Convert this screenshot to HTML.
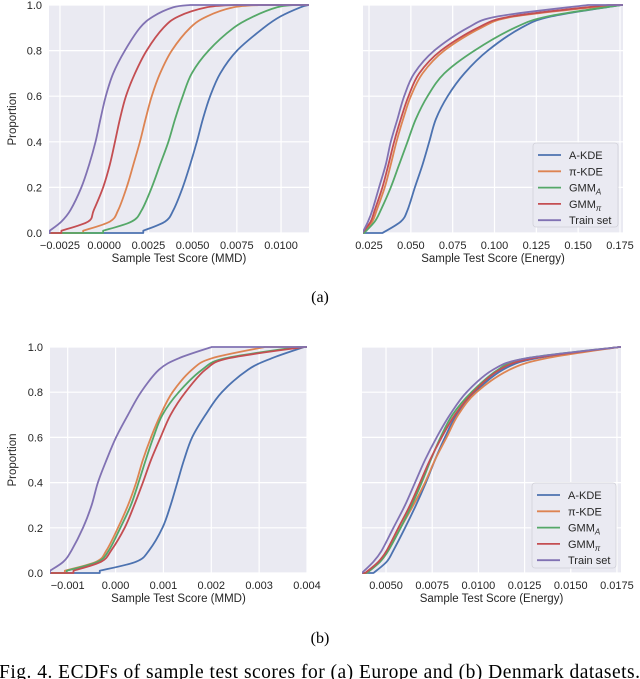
<!DOCTYPE html>
<html><head><meta charset="utf-8"><style>
body{margin:0;background:#fff;width:640px;height:679px;overflow:hidden}
svg{display:block;font-family:"Liberation Sans",sans-serif}
</style></head><body>
<svg id="fig" width="640" height="679" viewBox="0 0 640 679">
<text x="320" y="302" text-anchor="middle" font-family="Liberation Serif" font-size="16">(a)</text>
<text x="320" y="643" text-anchor="middle" font-family="Liberation Serif" font-size="16">(b)</text>
<text x="-1" y="678" font-family="Liberation Serif" font-size="19.5" textLength="641">Fig. 4.  ECDFs of sample test scores for (a) Europe and (b) Denmark datasets.</text>
</svg>
<script>
const seriesNames = ["A-KDE","π-KDE","GMM_A","GMM_π","Train set"];
const colors = ["#4c72b0","#dd8452","#55a868","#c44e52","#8172b3"];
const probs14 = [0.01,0.05,0.1,0.2,0.3,0.4,0.5,0.6,0.7,0.8,0.9,0.95,0.99,1];
const probs13 = [0,0.05,0.1,0.2,0.3,0.4,0.5,0.6,0.7,0.8,0.9,0.95,1];
const probsBL = [0.01,0.05,0.1,0.2,0.3,0.4,0.5,0.6,0.7,0.8,0.9,0.95,1];
const yTicks = [0,0.2,0.4,0.6,0.8,1.0];
const yTickLabels = ["0.0","0.2","0.4","0.6","0.8","1.0"];

const tlBlue = [0.00221,0.00344,0.00391,0.00444,0.00486,0.00524,0.00558,0.00599,0.00656,0.00751,0.00902,0.00997,0.01110,0.01157];
const tlOrange = [-0.00119,0.00032,0.00079,0.00127,0.00165,0.00202,0.00234,0.00269,0.00316,0.00382,0.00486,0.00581,0.00732,0.00883];
const tlGreen = [-0.00006,0.00155,0.00212,0.00269,0.00316,0.00363,0.00401,0.00444,0.00495,0.00590,0.00732,0.00845,0.00978,0.01072];
const tlRed = [-0.00242,-0.00091,-0.00059,-0.00006,0.00032,0.00061,0.00089,0.00123,0.00174,0.00240,0.00335,0.00420,0.00581,0.00732];
const tlPurple = [-0.00308,-0.00242,-0.00191,-0.00129,-0.00085,-0.00049,-0.00021,0.00009,0.00051,0.00117,0.00202,0.00278,0.00391,0.00486];
const tlTicks = [-0.0025,0,0.0025,0.005,0.0075,0.01];
const tlTickLabels = ["−0.0025","0.0000","0.0025","0.0050","0.0075","0.0100"];

const trBlue = [0.033,0.044,0.048,0.0524,0.057,0.061,0.065,0.072,0.082,0.096,0.116,0.134,0.176];
const trOrange = [0.022,0.027,0.0296,0.0344,0.038,0.0414,0.0454,0.05,0.057,0.07,0.092,0.112,0.172];
const trGreen = [0.022,0.0284,0.032,0.038,0.043,0.048,0.053,0.06,0.07,0.088,0.112,0.132,0.176];
const trRed = [0.021,0.026,0.0284,0.033,0.0366,0.040,0.044,0.0486,0.055,0.068,0.09,0.11,0.168];
const trPurple = [0.021,0.0244,0.027,0.031,0.035,0.038,0.042,0.046,0.052,0.064,0.084,0.102,0.156];
const trTicks = [0.025,0.05,0.075,0.1,0.125,0.15,0.175];
const trTickLabels = ["0.025","0.050","0.075","0.100","0.125","0.150","0.175"];

const blBlue = [-0.00033,0.00043,0.0007,0.00098,0.00115,0.00129,0.00143,0.0016,0.00188,0.00222,0.00277,0.00326,0.00394];
const blOrange = [-0.00106,-0.0004,-0.00019,0.00005,0.00026,0.00043,0.00057,0.00074,0.00094,0.00119,0.0016,0.00201,0.00312];
const blGreen = [-0.00102,-0.00037,-0.00014,0.0001,0.00032,0.00048,0.00063,0.00079,0.00098,0.00132,0.00181,0.00229,0.00381];
const blRed = [-0.00088,-0.0003,-0.00009,0.00019,0.00039,0.00057,0.00074,0.00094,0.00115,0.00146,0.00188,0.00236,0.00394];
const blPurple = [-0.00137,-0.00109,-0.00092,-0.00068,-0.0005,-0.00037,-0.00019,0.00001,0.00026,0.00053,0.00091,0.00132,0.00201];
const blTicks = [-0.001,0,0.001,0.002,0.003,0.004];
const blTickLabels = ["−0.001","0.000","0.001","0.002","0.003","0.004"];

const brBlue = [0.00432,0.00504,0.0054,0.00603,0.00662,0.00716,0.00765,0.00819,0.00882,0.00981,0.01134,0.01314,0.01764];
const brOrange = [0.00396,0.00468,0.00513,0.00579,0.00648,0.00711,0.00765,0.00828,0.00891,0.0099,0.0117,0.01368,0.01764];
const brGreen = [0.00396,0.00468,0.00513,0.00579,0.00639,0.00693,0.00742,0.00795,0.0086,0.00963,0.01107,0.0126,0.01764];
const brRed = [0.00387,0.00459,0.00504,0.00567,0.0063,0.00684,0.00738,0.00801,0.00873,0.00972,0.01116,0.01296,0.01764];
const brPurple = [0.00369,0.00432,0.00477,0.0054,0.00603,0.00657,0.00711,0.00774,0.00846,0.00936,0.0108,0.0126,0.01764];
const brTicks = [0.005,0.0075,0.01,0.0125,0.015,0.0175];
const brTickLabels = ["0.0050","0.0075","0.0100","0.0125","0.0150","0.0175"];

const NS="http://www.w3.org/2000/svg";
const svg=document.getElementById('fig');
function mk(tag,attrs,parent){const e=document.createElementNS(NS,tag);for(const k in attrs)e.setAttribute(k,attrs[k]);(parent||svg).appendChild(e);return e;}

function smoothPath(pts){
  let d='M'+pts[0][0].toFixed(2)+','+pts[0][1].toFixed(2);
  for(let i=0;i<pts.length-1;i++){
    const p0=pts[i-1]||pts[i],p1=pts[i],p2=pts[i+1],p3=pts[i+2]||p2;
    const c1=[p1[0]+(p2[0]-p0[0])/6,p1[1]+(p2[1]-p0[1])/6];
    const c2=[p2[0]-(p3[0]-p1[0])/6,p2[1]-(p3[1]-p1[1])/6];
    d+='C'+c1.map(v=>v.toFixed(2)).join(',')+' '+c2.map(v=>v.toFixed(2)).join(',')+' '+p2[0].toFixed(2)+','+p2[1].toFixed(2);
  }
  return d;
}

function panel(cfg){
  const g=mk('g',{});
  
  
  const {x0,x1,y0,y1,xmin,xmax}=cfg;
  const sx=v=>x0+(v-xmin)/(xmax-xmin)*(x1-x0);
  const sy=p=>y1-p*(y1-y0);
  const bg=mk('rect',{x:x0,y:y0,width:x1-x0,height:y1-y0,fill:'#eaeaf2'},g);
  
  
  cfg.ticks.forEach((t,i)=>{
    const X=sx(t);
    const l=mk('line',{x1:X,x2:X,y1:y0,y2:y1,stroke:'#fff','stroke-width':1.2},g);
    
    
    const tx=mk('text',{x:X,y:y1+16,'text-anchor':'middle','font-size':11,fill:'#262626'},g);
    tx.textContent=cfg.tickLabels[i];
    
    
  });
  yTicks.forEach((t,i)=>{
    const Y=sy(t);
    const l=mk('line',{x1:x0,x2:x1,y1:Y,y2:Y,stroke:'#fff','stroke-width':1.2},g);
    
    
    if(cfg.yLabels){
      const tx=mk('text',{x:x0-7,y:Y+4,'text-anchor':'end','font-size':11,fill:'#262626'},g);
      tx.textContent=yTickLabels[i];
      
      
    }
  });
  if(cfg.yLabels){
    const yt=mk('text',{x:0,y:0,transform:`translate(16,${(y0+y1)/2}) rotate(-90)`,'text-anchor':'middle','font-size':11.5,fill:'#262626'},g);
    yt.textContent='Proportion';
    
    
  }
  const xt=mk('text',{x:(x0+x1)/2,y:y1+29,'text-anchor':'middle','font-size':11.5,fill:'#262626'},g);
  xt.textContent=cfg.xTitle;
  
  
  const clipId='c'+cfg.name;
  const cp=mk('clipPath',{id:clipId},g);
  mk('rect',{x:x0,y:y0-2,width:x1-x0,height:y1-y0+4},cp);
  cfg.series.forEach((s,si)=>{
    const pts=s.map((v,i)=>[sx(v),sy(cfg.probs[i])]);
    let d=smoothPath(pts);
    d='M'+(x0-5)+','+sy(0).toFixed(2)+'L'+pts[0][0].toFixed(2)+','+sy(0).toFixed(2)+'L'+d.slice(1);
    d+='L'+(x1+5)+','+sy(1).toFixed(2);
    const p=mk('path',{d:d,fill:'none',stroke:colors[si],'stroke-width':1.8,'clip-path':`url(#${clipId})`,'stroke-linejoin':'round'},g);
    
    
  });
  if(cfg.legend){
    const [lx,ly,lw,lh]=cfg.legend;
    const lg=mk('g',{},g);
    
    
    mk('rect',{x:lx,y:ly,width:lw,height:lh,rx:3,fill:'#eaeaf2',stroke:'#d0d0d8','stroke-width':0.8},lg);
    const labels=[['A-KDE',''],['π-KDE',''],['GMM','A'],['GMM','π'],['Train set','']];
    labels.forEach((lb,i)=>{
      const Y=ly+12+i*16.3;
      mk('line',{x1:lx+5,x2:lx+28,y1:Y,y2:Y,stroke:colors[i],'stroke-width':1.8},lg);
      const t=mk('text',{x:lx+36,y:Y+4,'font-size':11,fill:'#262626'},lg);
      
      
      t.textContent=lb[0];
      if(lb[1]){const s=mk('tspan',{'font-size':8,dy:3,'font-style':'italic'},t);s.textContent=lb[1];}
    });
  }
}

panel({name:'panel-top-left',x0:49,x1:309,y0:5,y1:233,xmin:-0.00312,xmax:0.01158,ticks:tlTicks,tickLabels:tlTickLabels,yLabels:true,xTitle:'Sample Test Score (MMD)',probs:probs14,series:[tlBlue,tlOrange,tlGreen,tlRed,tlPurple]});
panel({name:'panel-top-right',x0:363,x1:623,y0:5,y1:233,xmin:0.0214,xmax:0.1768,ticks:trTicks,tickLabels:trTickLabels,yLabels:false,xTitle:'Sample Test Score (Energy)',probs:probs13,series:[trBlue,trOrange,trGreen,trRed,trPurple],legend:[533,143,85,84]});
panel({name:'panel-bottom-left',x0:50,x1:307,y0:347,y1:573,xmin:-0.00137,xmax:0.004,ticks:blTicks,tickLabels:blTickLabels,yLabels:true,xTitle:'Sample Test Score (MMD)',probs:probsBL,series:[blBlue,blOrange,blGreen,blRed,blPurple]});
panel({name:'panel-bottom-right',x0:362,x1:621,y0:347,y1:573,xmin:0.0037,xmax:0.01772,ticks:brTicks,tickLabels:brTickLabels,yLabels:false,xTitle:'Sample Test Score (Energy)',probs:probs13,series:[brBlue,brOrange,brGreen,brRed,brPurple],legend:[532,483,84,85]});
</script>
</body></html>
